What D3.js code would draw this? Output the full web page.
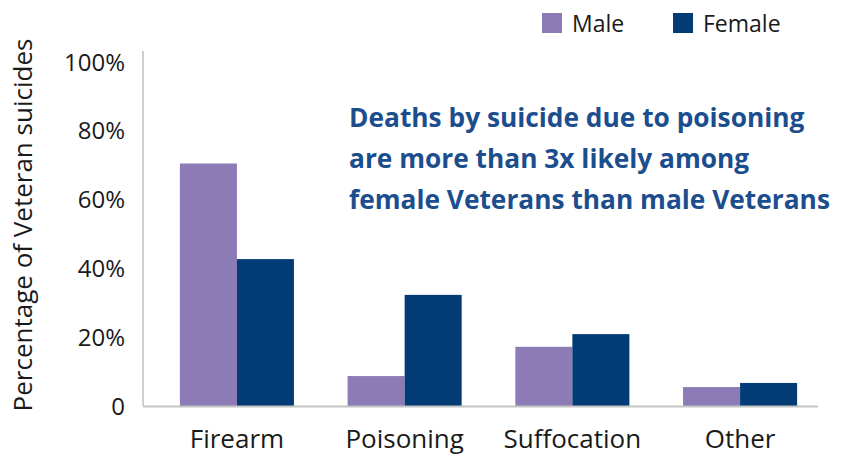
<!DOCTYPE html>
<html>
<head>
<meta charset="utf-8">
<script src="https://cdn.jsdelivr.net/npm/d3@7"></script>
<style>
  body { margin: 0; background: #fff; }
  text { font-family: "Open Sans", "Noto Sans", sans-serif; }
</style>
</head>
<body>
<script>
var w = 848, h = 455;
var categories = ['Firearm', 'Poisoning', 'Suffocation', 'Other'];
var series = ['Male', 'Female'];
var maleVals = [70.5, 8.7, 17.2, 5.5];
var femaleVals = [42.7, 32.3, 20.9, 6.7];
var yTicks = [0, 20, 40, 60, 80, 100];
var colors = ['#8c7bb7', '#023b75'];
var note = ['Deaths by suicide due to poisoning',
            'are more than 3x likely among',
            'female Veterans than male Veterans'];

var svg = d3.select('body').append('svg')
  .attr('width', w)
  .attr('height', h);

var mLeft = 143, mRight = 834, mTop = 62, mBottom = 406;

var x = d3.scaleBand()
  .domain(categories)
  .range([mLeft, mRight])
  .paddingInner(0.32)
  .paddingOuter(0.22);
var xs = d3.scaleBand()
  .domain(series)
  .range([0, x.bandwidth()]);
var y = d3.scaleLinear()
  .domain([0, 100])
  .range([mBottom, mTop]);

// axis line
svg.append('line')
  .attr('x1', mLeft).attr('x2', mLeft)
  .attr('y1', 51).attr('y2', mBottom)
  .attr('stroke', '#bfbfbf').attr('stroke-width', 1.5);

// tick labels
svg.selectAll('.ytick')
  .data(yTicks)
  .enter()
  .append('text')
  .attr('class', 'ytick')
  .attr('x', 125)
  .attr('y', function(d){ return y(d); })
  .attr('dy', '0.36em')
  .attr('text-anchor', 'end')
  .attr('font-size', 24)
  .attr('fill', '#1a1a1a')
  .text(function(d){ return d === 0 ? '0' : d + '%'; });

var data = categories.map(function(c, i){
  return {cat: c, vals: [maleVals[i], femaleVals[i]]};
});

var groups = svg.selectAll('.grp')
  .data(data)
  .enter()
  .append('g')
  .attr('class', 'grp')
  .attr('transform', function(d){ return 'translate(' + x(d.cat) + ',0)'; });

groups.selectAll('rect')
  .data(function(d){ return d.vals.map(function(v, i){ return {s: series[i], v: v, i: i}; }); })
  .enter()
  .append('rect')
  .attr('x', function(d){ return xs(d.s); })
  .attr('y', function(d){ return y(d.v); })
  .attr('width', xs.bandwidth())
  .attr('height', function(d){ return y(0) - y(d.v); })
  .attr('fill', function(d){ return colors[d.i]; });

svg.append('line')
  .attr('x1', mLeft).attr('x2', 818)
  .attr('y1', mBottom + 0.5).attr('y2', mBottom + 0.5)
  .attr('stroke', '#c4c4c4').attr('stroke-width', 2);

// category labels
svg.selectAll('.xlab')
  .data(categories)
  .enter()
  .append('text')
  .attr('class', 'xlab')
  .attr('x', function(d){ return x(d) + x.bandwidth() / 2; })
  .attr('y', 448)
  .attr('text-anchor', 'middle')
  .attr('font-size', 26)
  .attr('fill', '#1a1a1a')
  .text(function(d){ return d; });

// y title
svg.append('text')
  .attr('transform', 'translate(32,' + 225 + ') rotate(-90)')
  .attr('text-anchor', 'middle')
  .attr('font-size', 26)
  .attr('fill', '#1a1a1a')
  .text('Percentage of Veteran suicides');

// legend
var legX = [542, 673];
series.forEach(function(s, i){
  svg.append('rect')
    .attr('x', legX[i]).attr('y', 13)
    .attr('width', 20).attr('height', 20)
    .attr('fill', colors[i]);
  svg.append('text')
    .attr('x', legX[i] + 30).attr('y', 32)
    .attr('font-size', 23)
    .attr('fill', '#1a1a1a')
    .text(s);
});

// annotation
svg.selectAll('.note')
  .data(note)
  .enter()
  .append('text')
  .attr('class', 'note')
  .attr('x', 349)
  .attr('y', function(d, i){ return 127 + i * 41; })
  .attr('font-size', 26.3)
  .attr('font-weight', 'bold')
  .attr('fill', '#1c4e8e')
  .text(function(d){ return d; });
</script>
</body>
</html>
